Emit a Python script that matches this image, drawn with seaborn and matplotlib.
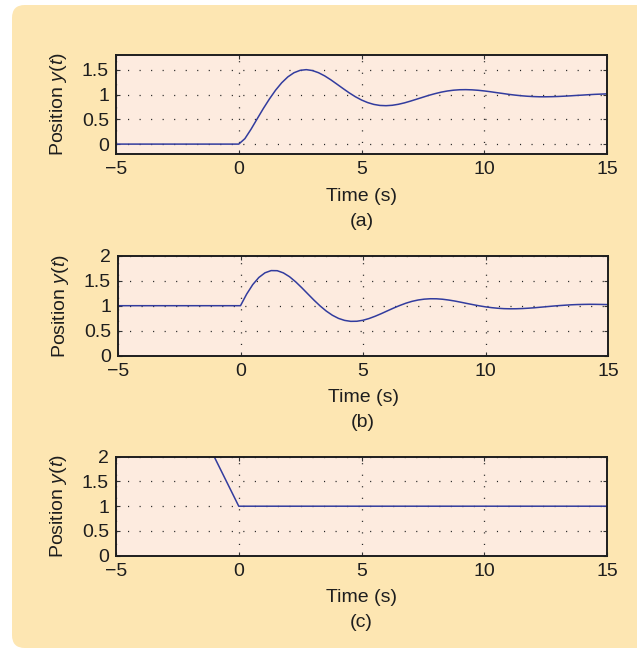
import numpy as np
import pandas as pd
import seaborn as sns
import matplotlib
matplotlib.use("Agg")
import matplotlib.pyplot as plt
from matplotlib.patches import FancyBboxPatch

# sample times after t = 0 (every 0.25 s)
t_samp = np.linspace(0, 15, 61)

# (a) position
y_a = [0.000, 0.110, 0.300, 0.510, 0.718, 0.912, 1.089, 1.239, 1.358, 1.442,
       1.490, 1.504, 1.486, 1.442, 1.378, 1.299, 1.211, 1.122, 1.035, 0.957,
       0.891, 0.839, 0.802, 0.781, 0.776, 0.784, 0.804, 0.833, 0.869, 0.908,
       0.947, 0.986, 1.020, 1.050, 1.073, 1.089, 1.098, 1.100, 1.096, 1.087,
       1.074, 1.058, 1.040, 1.023, 1.005, 0.990, 0.977, 0.967, 0.960, 0.956,
       0.956, 0.958, 0.962, 0.968, 0.975, 0.983, 0.990, 0.998, 1.005, 1.010,
       1.015]

# (b)
y_b = [1.000, 1.231, 1.422, 1.565, 1.658, 1.702, 1.700, 1.656, 1.580, 1.478,
       1.360, 1.235, 1.111, 0.995, 0.893, 0.809, 0.746, 0.706, 0.687, 0.689,
       0.709, 0.744, 0.790, 0.842, 0.898, 0.953, 1.004, 1.050, 1.087, 1.114,
       1.131, 1.139, 1.138, 1.129, 1.113, 1.093, 1.069, 1.044, 1.020, 0.997,
       0.977, 0.961, 0.949, 0.941, 0.938, 0.939, 0.943, 0.950, 0.959, 0.970,
       0.981, 0.992, 1.002, 1.010, 1.018, 1.023, 1.026, 1.028, 1.027, 1.025,
       1.022]

# (c) straight segments
t_c = [-1.0, 0.0, 15.0]
y_c = [2.0, 1.0, 1.0]

# values before t = 0
pre_a = 0.0
pre_b = 1.0

xticks = [-5, 0, 5, 10, 15]
xticklabels = ["\u22125", "0", "5", "10", "15"]
yticks_a = [0, 0.5, 1, 1.5]
yticks_bc = [0, 0.5, 1, 1.5, 2]
captions = ["(a)", "(b)", "(c)"]

sns.set_style("ticks")
plt.rcParams["font.family"] = ["Liberation Sans", "DejaVu Sans"]
plt.rcParams["mathtext.fontset"] = "custom"
plt.rcParams["mathtext.rm"] = "Liberation Sans"
plt.rcParams["mathtext.it"] = "Liberation Sans:italic"
plt.rcParams["lines.scale_dashes"] = False

panel_bg = "#fde6b2"
ax_bg = "#fdebdf"
line_col = "#323c9e"
txt_col = "#1e1e1e"
fs = 14

fig = plt.figure(figsize=(6.37, 6.49), dpi=100, facecolor="white")
bg = FancyBboxPatch((12 / 637, 1 / 649), 1.0, 643 / 649,
                    boxstyle="round,pad=0,rounding_size=0.02",
                    transform=fig.transFigure, fc=panel_bg, ec="none", zorder=-10)
fig.patches.append(bg)

frames = [
    pd.DataFrame({"t": np.concatenate([[-5.0], t_samp]), "y": [pre_a] + y_a}),
    pd.DataFrame({"t": np.concatenate([[-5.0], t_samp]), "y": [pre_b] + y_b}),
    pd.DataFrame({"t": t_c, "y": y_c}),
]

# axes boxes in figure fraction
boxes = [
    [116 / 637, 1 - 154 / 649, 491 / 637, 99 / 649],
    [118 / 637, 1 - 355.7 / 649, 490 / 637, 100 / 649],
    [116 / 637, 1 - 555.7 / 649, 491 / 637, 99 / 649],
]
ylims = [(-0.2, 1.8), (0, 2), (0, 2)]
yticks_list = [yticks_a, yticks_bc, yticks_bc]

for i in range(3):
    ax = fig.add_axes(boxes[i])
    ax.set_facecolor(ax_bg)
    sns.lineplot(data=frames[i], x="t", y="y", ax=ax, color=line_col,
                 linewidth=1.1, estimator=None, sort=False)
    ax.set_xlim(-5, 15)
    ax.set_ylim(*ylims[i])
    ax.set_xticks(xticks)
    ax.set_xticklabels(xticklabels)
    yt = yticks_list[i]
    ax.set_yticks(yt)
    ax.set_yticklabels(["%g" % v for v in yt])
    ax.grid(True, color="#222222", linewidth=0.9, linestyle=(0, (0.8, 7.5)))
    for s in ax.spines.values():
        s.set_visible(True)
        s.set_linewidth(1.4)
        s.set_color(txt_col)
    ax.tick_params(direction="in", length=3, width=0.8, color="#333333",
                   labelsize=fs, top=True, right=True, pad=5,
                   labelcolor=txt_col)
    ax.set_xlabel("Time (s)\n" + captions[i], fontsize=fs, linespacing=1.62,
                  labelpad=7, color=txt_col)
    ax.set_ylabel("Position $y$($t$)", fontsize=fs, labelpad=9, color=txt_col)

fig.savefig("out.png", dpi=100, facecolor="white")
